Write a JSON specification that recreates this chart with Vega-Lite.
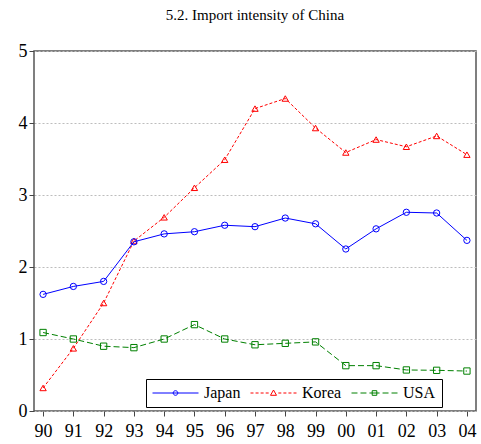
{
  "$schema": "https://vega.github.io/schema/vega-lite/v6.json",
  "autosize": {"type": "none"},
  "width": 442,
  "height": 360,
  "padding": {"left": 34, "top": 51, "right": 5, "bottom": 33},
  "background": "white",
  "title": {
    "text": "5.2. Import intensity of China",
    "font": "Liberation Serif",
    "fontSize": 15,
    "fontWeight": "normal",
    "color": "#000",
    "anchor": "middle",
    "frame": "group",
    "baseline": "alphabetic",
    "offset": 7
  },
  "data": {
    "values": [
      {"year": "90", "country": "Japan", "value": 1.62},
      {"year": "91", "country": "Japan", "value": 1.73},
      {"year": "92", "country": "Japan", "value": 1.80},
      {"year": "93", "country": "Japan", "value": 2.35},
      {"year": "94", "country": "Japan", "value": 2.46},
      {"year": "95", "country": "Japan", "value": 2.49},
      {"year": "96", "country": "Japan", "value": 2.58},
      {"year": "97", "country": "Japan", "value": 2.56},
      {"year": "98", "country": "Japan", "value": 2.68},
      {"year": "99", "country": "Japan", "value": 2.60},
      {"year": "00", "country": "Japan", "value": 2.25},
      {"year": "01", "country": "Japan", "value": 2.53},
      {"year": "02", "country": "Japan", "value": 2.76},
      {"year": "03", "country": "Japan", "value": 2.75},
      {"year": "04", "country": "Japan", "value": 2.37},
      {"year": "90", "country": "Korea", "value": 0.32},
      {"year": "91", "country": "Korea", "value": 0.87},
      {"year": "92", "country": "Korea", "value": 1.50},
      {"year": "93", "country": "Korea", "value": 2.36},
      {"year": "94", "country": "Korea", "value": 2.69},
      {"year": "95", "country": "Korea", "value": 3.10},
      {"year": "96", "country": "Korea", "value": 3.49},
      {"year": "97", "country": "Korea", "value": 4.20},
      {"year": "98", "country": "Korea", "value": 4.34},
      {"year": "99", "country": "Korea", "value": 3.93},
      {"year": "00", "country": "Korea", "value": 3.59},
      {"year": "01", "country": "Korea", "value": 3.77},
      {"year": "02", "country": "Korea", "value": 3.67},
      {"year": "03", "country": "Korea", "value": 3.82},
      {"year": "04", "country": "Korea", "value": 3.56},
      {"year": "90", "country": "USA", "value": 1.09},
      {"year": "91", "country": "USA", "value": 1.00},
      {"year": "92", "country": "USA", "value": 0.90},
      {"year": "93", "country": "USA", "value": 0.88},
      {"year": "94", "country": "USA", "value": 1.00},
      {"year": "95", "country": "USA", "value": 1.20},
      {"year": "96", "country": "USA", "value": 1.00},
      {"year": "97", "country": "USA", "value": 0.92},
      {"year": "98", "country": "USA", "value": 0.94},
      {"year": "99", "country": "USA", "value": 0.96},
      {"year": "00", "country": "USA", "value": 0.63},
      {"year": "01", "country": "USA", "value": 0.63},
      {"year": "02", "country": "USA", "value": 0.57},
      {"year": "03", "country": "USA", "value": 0.565},
      {"year": "04", "country": "USA", "value": 0.555}
    ]
  },
  "encoding": {
    "x": {
      "field": "year",
      "type": "ordinal",
      "sort": ["90", "91", "92", "93", "94", "95", "96", "97", "98", "99", "00", "01", "02", "03", "04"],
      "scale": {"type": "point", "padding": 0.3},
      "axis": {
        "title": null,
        "labelAngle": 0,
        "labelFont": "Liberation Serif",
        "labelFontSize": 18,
        "labelColor": "#000",
        "labelPadding": 6,
        "tickSize": 5,
        "tickColor": "#444",
        "domain": false,
        "grid": false
      }
    },
    "y": {
      "field": "value",
      "type": "quantitative",
      "scale": {"domain": [0, 5], "nice": false, "zero": false},
      "axis": {
        "title": null,
        "values": [0, 1, 2, 3, 4, 5],
        "labelFont": "Liberation Serif",
        "labelFontSize": 18,
        "labelColor": "#000",
        "labelPadding": 2,
        "tickSize": 5,
        "tickColor": "#444",
        "domain": false,
        "grid": true,
        "gridColor": "#bdbdbd",
        "gridDash": [2, 2],
        "gridWidth": 1
      }
    },
    "color": {
      "field": "country",
      "type": "nominal",
      "scale": {"domain": ["Japan", "Korea", "USA"], "range": ["#0000ff", "#ff0000", "#008000"]},
      "legend": {
        "title": null,
        "orient": "none",
        "legendX": 112,
        "legendY": 328,
        "direction": "horizontal",
        "strokeColor": "#000",
        "fillColor": "#fff",
        "padding": 6,
        "symbolSize": 100,
        "symbolOffset": 0,
        "labelOffset": 5,
        "columnPadding": 9,
        "clipHeight": 16,
        "labelFont": "Liberation Serif",
        "labelFontSize": 16,
        "labelColor": "#000",
        "encode": {
          "symbols": {
            "update": {
              "shape": {"signal": "datum.value === 'Japan' ? 'M-1,0H1M0.1,0A0.1,0.1,0,1,1,-0.1,0A0.1,0.1,0,1,1,0.1,0' : datum.value === 'Korea' ? 'M-1,0H-0.87M-0.78,0H-0.65M-0.56,0H-0.43M-0.34,0H-0.21M0.21,0H0.34M0.43,0H0.56M0.65,0H0.78M0.87,0H1M0,-0.13L0.13,0.1L-0.13,0.1Z' : 'M-1,0H-0.74M-0.61,0H-0.35M-0.22,0H0.22M0.35,0H0.61M0.74,0H1M-0.1,-0.1H0.1V0.1H-0.1Z'"},
              "size": {"value": 2116},
              "fill": {"value": "transparent"},
              "strokeDash": {"value": []},
              "strokeWidth": {"value": 1}
            }
          }
        }
      }
    }
  },
  "layer": [
    {
      "transform": [{"filter": "datum.country === 'USA'"}],
      "layer": [
        {"mark": {"type": "line", "strokeWidth": 1, "strokeDash": [6, 3]}},
        {"mark": {"type": "point", "shape": "square", "filled": false, "strokeWidth": 1, "size": 40, "opacity": 1}}
      ]
    },
    {
      "transform": [{"filter": "datum.country === 'Korea'"}],
      "layer": [
        {"mark": {"type": "line", "strokeWidth": 1, "strokeDash": [3, 2]}},
        {"mark": {"type": "point", "shape": "triangle-up", "filled": false, "strokeWidth": 1, "size": 40, "opacity": 1}}
      ]
    },
    {
      "transform": [{"filter": "datum.country === 'Japan'"}],
      "layer": [
        {"mark": {"type": "line", "strokeWidth": 1}},
        {"mark": {"type": "point", "shape": "circle", "filled": false, "strokeWidth": 1, "size": 40, "opacity": 1}}
      ]
    }
  ],
  "config": {
    "view": {"stroke": "#555", "strokeWidth": 1.5},
    "font": "Liberation Serif"
  }
}
